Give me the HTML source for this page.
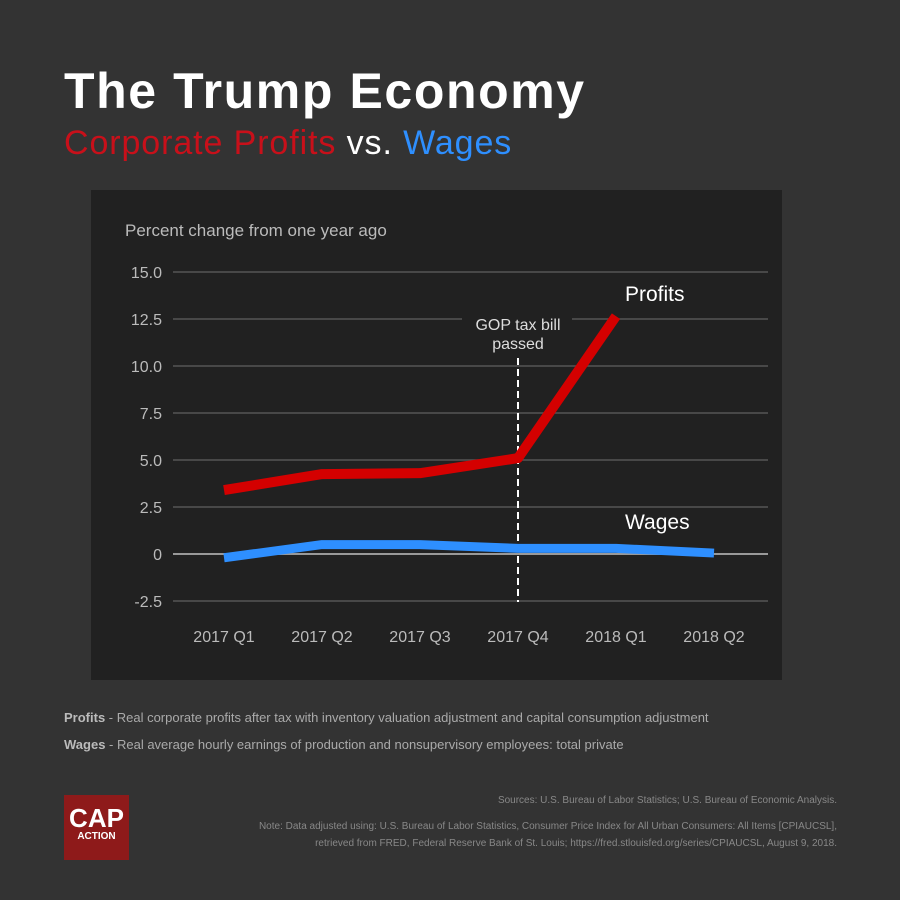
<!DOCTYPE html>
<html><head><meta charset="utf-8"><style>
html,body{margin:0;padding:0;}
body{width:900px;height:900px;background:#333333;position:relative;overflow:hidden;font-family:"Liberation Sans",sans-serif;}
.abs{position:absolute;}
</style></head><body>
<div class="abs" style="left:64px;top:62px;font-size:50px;font-weight:bold;color:#fff;letter-spacing:1.6px;">The Trump Economy</div>
<div class="abs" style="left:64px;top:124px;font-size:34px;color:#fff;letter-spacing:0.9px;"><span style="color:#c8101a">Corporate Profits</span> vs. <span style="color:#2e8fff">Wages</span></div>
<div class="abs" style="left:91px;top:190px;width:691px;height:490px;background:#212121;"></div>
<svg class="abs" style="left:0;top:0" width="900" height="900">
<text x="125" y="236" fill="#bbb" font-size="17" font-family="Liberation Sans, sans-serif">Percent change from one year ago</text>
<g id="grid"></g><g id="lines"></g>
</svg>
<div class="abs" style="left:64px;top:710px;font-size:13px;color:#aaa;"><b style="color:#bbb">Profits</b> - Real corporate profits after tax with inventory valuation adjustment and capital consumption adjustment</div>
<div class="abs" style="left:64px;top:737px;font-size:13px;color:#aaa;"><b style="color:#bbb">Wages</b> - Real average hourly earnings of production and nonsupervisory employees: total private</div>
<div class="abs" style="left:64px;top:795px;width:65px;height:65px;background:#8e1a1a;color:#fff;text-align:center;font-weight:bold;">
<div style="font-size:26px;margin-top:10px;line-height:26px;">CAP</div><div style="font-size:10px;">ACTION</div></div>
<div class="abs" style="right:63px;top:795px;font-size:10px;color:#888;text-align:right;">Sources: U.S. Bureau of Labor Statistics; U.S. Bureau of Economic Analysis.</div>
<div class="abs" style="right:63px;top:818px;font-size:10px;color:#888;text-align:right;line-height:17px;">Note: Data adjusted using: U.S. Bureau of Labor Statistics, Consumer Price Index for All Urban Consumers: All Items [CPIAUCSL],<br>retrieved from FRED, Federal Reserve Bank of St. Louis; https://fred.stlouisfed.org/series/CPIAUCSL, August 9, 2018.</div>
<script>
const categories=["2017 Q1","2017 Q2","2017 Q3","2017 Q4","2018 Q1","2018 Q2"];
const profits=[3.4,4.25,4.3,5.1,12.65];
const wages=[-0.2,0.5,0.5,0.3,0.3,0.05];
const yTicks=[15,12.5,10,7.5,5,2.5,0,-2.5];
const yTickLabels=["15.0","12.5","10.0","7.5","5.0","2.5","0","-2.5"];
const NS="http://www.w3.org/2000/svg";
function x(i){return 224+i*98;}
function y(v){return 554-v*(47/2.5);}
const grid=document.getElementById('grid'),lines=document.getElementById('lines');
function mk(t,a,p){const e=document.createElementNS(NS,t);for(const k in a)e.setAttribute(k,a[k]);p.appendChild(e);return e;}
yTicks.forEach((v,i)=>{
 const l=mk('line',{x1:173,x2:768,y1:y(v),y2:y(v),stroke:v===0?'#999':'#555','stroke-width':v===0?2:1.5},grid);
 
 
 const t=mk('text',{x:162,y:y(v)+6,fill:'#bbb','font-size':16,'text-anchor':'end','font-family':'Liberation Sans, sans-serif'},grid);
 t.textContent=yTickLabels[i];
 
 
});
categories.forEach((c,i)=>{
 const t=mk('text',{x:x(i),y:642,fill:'#bbb','font-size':16,'text-anchor':'middle','font-family':'Liberation Sans, sans-serif'},grid);
 t.textContent=c;
 
 
});
const bg=mk('rect',{x:462,y:308,width:110,height:44,fill:'#212121'},grid);


const d=mk('line',{x1:x(3),x2:x(3),y1:358,y2:602,stroke:'#fff','stroke-width':2,'stroke-dasharray':'7,4'},lines);


[["GOP tax bill",330],["passed",349]].forEach(a=>{
 const t=mk('text',{x:x(3),y:a[1],fill:'#ddd','font-size':16,'text-anchor':'middle','font-family':'Liberation Sans, sans-serif'},lines);
 t.textContent=a[0];
 
 
});
const wp=mk('polyline',{points:wages.map((v,i)=>x(i)+','+y(v)).join(' '),fill:'none',stroke:'#2e8fff','stroke-width':9,'stroke-linejoin':'round'},lines);


const pp=mk('polyline',{points:profits.map((v,i)=>x(i)+','+y(v)).join(' '),fill:'none',stroke:'#d40000','stroke-width':10,'stroke-linejoin':'round'},lines);


[["Profits",625,301],["Wages",625,529]].forEach(a=>{
 const t=mk('text',{x:a[1],y:a[2],fill:'#fff','font-size':21,'font-family':'Liberation Sans, sans-serif'},lines);
 t.textContent=a[0];
 
 
});
</script>
</body></html>
